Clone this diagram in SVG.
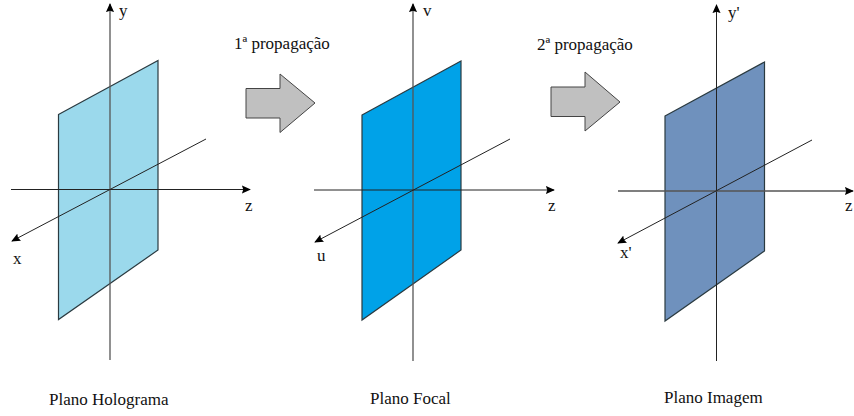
<svg xmlns="http://www.w3.org/2000/svg" width="854" height="416" viewBox="0 0 854 416">
<style>
text{font-family:"Liberation Serif","Times New Roman",serif;font-size:17px;fill:#111}
.plane{stroke:#2a3a40;stroke-width:1.2}
.ax{stroke:#222;stroke-width:1;fill:none}
.v{stroke:#555;stroke-width:1.3;fill:none}
.block{fill:#c0c0c0;stroke:#444;stroke-width:1}
</style>
<defs>
<marker id="ah" viewBox="0 0 10 10" refX="9" refY="5" markerWidth="9" markerHeight="9" markerUnits="userSpaceOnUse" orient="auto"><path d="M0 0.5L10 5L0 9.5L1.5 5Z" fill="#000"/></marker>
</defs>
<rect width="854" height="416" fill="#fff"/>
<g id="plano-holograma">
<polygon class="plane" points="58.5,114.5 158,60.5 158,250 58.5,319.5" fill="#9bd9ec"/>
<text x="49" y="405">Plano Holograma</text>
</g>
<g id="plano-focal">
<polygon class="plane" points="362,115 461,61 461,250 362,320" fill="#00a2e8"/>
<text x="370" y="404">Plano Focal</text>
</g>
<g id="plano-imagem">
<polygon class="plane" points="665,116 764.5,62 764.5,251 665,321" fill="#6f91bd"/>
<text x="664" y="403">Plano Imagem</text>
</g>
<g id="connectors">
<path class="v" d="M110 360V4" marker-end="url(#ah)"/>
<path class="ax" d="M11 189.5H250" marker-end="url(#ah)"/>
<path class="ax" d="M206 139L12 241" marker-end="url(#ah)"/>
<path class="v" d="M413 361V4" marker-end="url(#ah)"/>
<path class="ax" d="M314 190H554" marker-end="url(#ah)"/>
<path class="ax" d="M510 139L315 242" marker-end="url(#ah)"/>
<path class="ax" d="M716.5 361V5" marker-end="url(#ah)"/>
<path class="v" d="M618 191H853" marker-end="url(#ah)"/>
<path class="ax" d="M812 140L618 243" marker-end="url(#ah)"/>
</g>
<g id="labels-1">
<text x="119" y="16">y</text><text x="245" y="211">z</text><text x="13" y="264">x</text>
</g>
<g id="labels-2">
<text x="423" y="16">v</text><text x="548" y="211">z</text><text x="317" y="261">u</text>
</g>
<g id="labels-3">
<text x="728" y="18">y'</text><text x="845" y="211">z</text><text x="620" y="258">x'</text>
</g>
<g id="seta-1">
<polygon class="block" points="246,88.5 280,88.5 280,74 315,103 280,132.5 280,118 246,118"/>
<text x="234" y="49">1ª propagação</text>
</g>
<g id="seta-2">
<polygon class="block" points="551,87 585,87 585,72 620,102 585,131 585,116.5 551,116.5"/>
<text x="537" y="50">2ª propagação</text>
</g>
</svg>
